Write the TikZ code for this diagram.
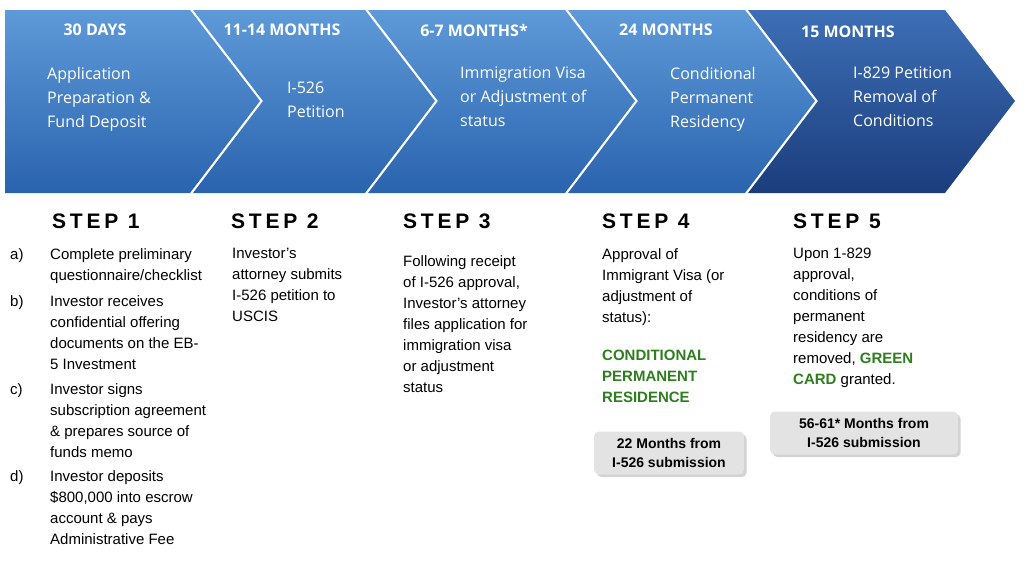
\documentclass[tikz,border=0pt]{standalone}
\usepackage{fontspec}
\setmainfont{Liberation Sans}
\newfontfamily\chevfont{Open Sans}
\newfontfamily\stepfont[LetterSpace=18]{Liberation Sans}
\usetikzlibrary{shadows}
\definecolor{gtxt}{HTML}{2E7D1F}
\definecolor{ctop}{HTML}{5E9AD8}
\definecolor{cbot}{HTML}{2A63AE}
\definecolor{dtop}{HTML}{3D6FB6}
\definecolor{dbot}{HTML}{1B3D7C}
\tikzset{
 chev/.style 2 args={top color=#1, bottom color=#2, draw=none},
 head/.style={text=white, font=\chevfont\bfseries\fontsize{16}{18}\selectfont, anchor=center},
 cbody/.style={text=white, font=\chevfont\fontsize{16}{24}\selectfont, anchor=north west, align=left, inner sep=0pt},
 steph/.style={font=\stepfont\bfseries\fontsize{21}{24}\selectfont, anchor=west, inner sep=0pt},
 body/.style={font=\fontsize{15}{21}\selectfont, anchor=north west, align=left, inner sep=0pt},
 gbox/.style={rounded corners=5pt, fill=gray!22, draw=none, drop shadow={opacity=0.35}, font=\bfseries\fontsize{14}{19}\selectfont, align=center, inner sep=3pt}
}
\begin{document}
\begin{tikzpicture}[x=1pt,y=-1pt]
\useasboundingbox (0,0) rectangle (1024,576);
% chevrons
\path[chev={ctop}{cbot}] (5,10) -- (190,10) -- (260,101) -- (190,193) -- (5,193) -- cycle;
\path[chev={ctop}{cbot}] (193,10) -- (365,10) -- (435,101) -- (365,193) -- (193,193) -- (263,101) -- cycle;
\path[chev={ctop}{cbot}] (368,10) -- (565,10) -- (635,101) -- (565,193) -- (368,193) -- (438,101) -- cycle;
\path[chev={ctop}{cbot}] (568,10) -- (745,10) -- (815,101) -- (745,193) -- (568,193) -- (638,101) -- cycle;
\path[chev={dtop}{dbot}] (748,10) -- (945,10) -- (1015,101) -- (945,193) -- (748,193) -- (818,101) -- cycle;
\node[head] (h1) at (95,30) {30 DAYS};
\node[head] (h2) at (282,30) {11-14 MONTHS};
\node[head] (h3) at (474,30) {6-7 MONTHS*};
\node[head] (h4) at (666,30) {24 MONTHS};
\node[head] (h5) at (848,32) {15 MONTHS};
\node[cbody] (c1) at (47,67) {Application\\Preparation \&\\Fund Deposit};
\node[cbody] (c2) at (287,82) {I-526\\Petition};
\node[cbody] (c3) at (460,67) {Immigration Visa\\or Adjustment of\\status};
\node[cbody] (c4) at (670,67) {Conditional\\Permanent\\Residency};
\node[cbody] (c5) at (853,67) {I-829 Petition\\Removal of\\Conditions};
% steps
\node[steph] (s1) at (52,221) {STEP 1};
\node[steph] (s2) at (231,221) {STEP 2};
\node[steph] (s3) at (403,221) {STEP 3};
\node[steph] (s4) at (602,221) {STEP 4};
\node[steph] (s5) at (793,221) {STEP 5};
% step 1 list
\node[body] (a) at (10,248) {a)};
\node[body] (at) at (50,248) {Complete preliminary\\questionnaire/checklist};
\node[body] (b) at (10,295) {b)};
\node[body] (bt) at (50,295) {Investor receives\\confidential offering\\documents on the EB-\\5 Investment};
\node[body] (c) at (10,383) {c)};
\node[body] (ct) at (50,383) {Investor signs\\subscription agreement\\\& prepares source of\\funds memo};
\node[body] (dd) at (10,470) {d)};
\node[body] (dt) at (50,470) {Investor deposits\\\$800,000 into escrow\\account \& pays\\Administrative Fee};
\node[body] (t2) at (232,248) {Investor’s\\attorney submits\\I-526 petition to\\USCIS};
\node[body] (t3) at (403,255) {Following receipt\\of I-526 approval,\\Investor’s attorney\\files application for\\immigration visa\\or adjustment\\status};
\node[body] (t4) at (602,248) {Approval of\\Immigrant Visa (or\\adjustment of\\status):};
\node[body, text=gtxt, font=\bfseries\fontsize{15}{21}\selectfont] (g4) at (602,350) {CONDITIONAL\\PERMANENT\\RESIDENCE};
\node[body] (t5) at (793,248) {Upon 1-829\\approval,\\conditions of\\permanent\\residency are\\removed, \textcolor{gtxt}{\bfseries GREEN}\\\textcolor{gtxt}{\bfseries CARD} granted.};
\node[gbox, minimum width=150pt, minimum height=43pt] (box4) at (669,453) {22 Months from\\I-526 submission};
\node[gbox, minimum width=188pt, minimum height=43pt] (box5) at (864,433) {56-61* Months from\\I-526 submission};
\end{tikzpicture}
\end{document}
